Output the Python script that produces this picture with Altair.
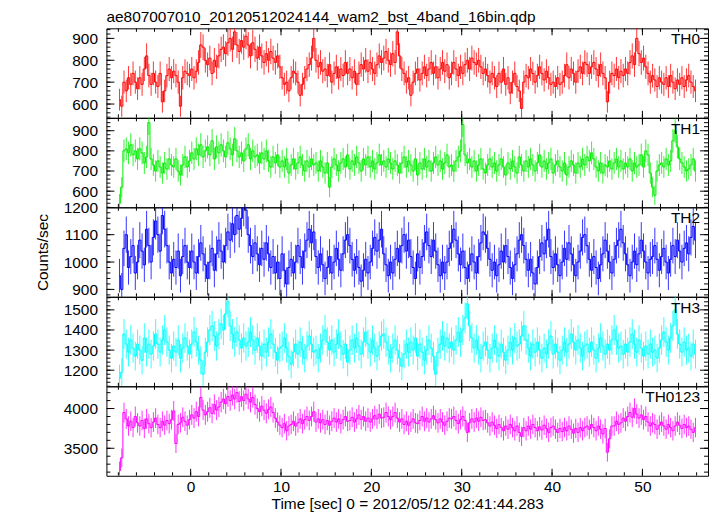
import altair as alt
import pandas as pd

FONT = "Liberation Sans"
TITLE = "ae807007010_20120512024144_wam2_bst_4band_16bin.qdp"
X_TITLE = "Time [sec] 0 = 2012/05/12 02:41:44.283"
Y_TITLE = "Counts/sec"
BAND_NAMES = ["TH0", "TH1", "TH2", "TH3", "TH0123"]
COLORS = ["#ff0000", "#00ee00", "#0000ff", "#00ffff", "#ff00ff"]

BIN_WIDTH = 0.25
FIRST_EDGE = -8.0

th0 = [620,
       590, 700, 660, 720, 690, 740, 700, 670,
       720, 690, 760, 820, 730, 690, 740,
       700, 680, 740, 610, 660, 730, 760, 720,
       750, 730, 700, 590, 720, 750, 740,
       730, 760, 720, 750, 790, 870, 860, 800,
       780, 810, 740, 800, 770, 820, 850,
       860, 830, 880, 900, 850, 930, 870, 840,
       890, 860, 910, 870, 820, 880, 850,
       810, 860, 820, 790, 830, 800, 840, 810,
       790, 820, 770, 720, 690, 700, 660,
       720, 750, 740, 700, 640, 690, 720, 760,
       780, 810, 900, 800, 770, 790, 750,
       760, 730, 780, 700, 740, 770, 720, 760,
       730, 790, 740, 760, 720, 750, 690,
       740, 780, 760, 800, 750, 790, 760, 740,
       780, 820, 790, 810, 840, 800, 780,
       830, 790, 930, 820, 760, 740, 700, 720,
       640, 700, 740, 760, 710, 740, 770,
       730, 760, 790, 740, 770, 720, 760, 790,
       750, 780, 720, 740, 790, 760, 730,
       770, 740, 780, 800, 760, 810, 790, 780,
       800, 770, 740, 760, 730, 700, 740,
       720, 680, 740, 700, 760, 690, 720, 650,
       700, 740, 680, 660, 580, 700, 730,
       720, 760, 740, 700, 730, 770, 740, 710,
       750, 720, 690, 700, 680, 720, 690,
       700, 730, 780, 720, 760, 740, 700, 750,
       770, 740, 790, 780, 740, 770, 790,
       760, 730, 780, 740, 720, 610, 700, 740,
       730, 760, 720, 750, 730, 760, 740,
       790, 820, 780, 900, 830, 790, 810, 770,
       740, 700, 730, 710, 680, 720, 700,
       690, 720, 680, 730, 700, 670, 710, 690,
       720, 680, 710, 730, 700, 680, 660]

th1 = [540,
       620, 800, 810, 790, 830, 780, 800, 760,
       810, 790, 740, 770, 940, 760, 730,
       700, 750, 720, 690, 740, 710, 760, 730,
       720, 760, 700, 680, 730, 770, 720,
       750, 790, 760, 810, 780, 830, 770, 800,
       820, 780, 850, 760, 820, 790, 830,
       800, 770, 840, 810, 780, 860, 800, 770,
       790, 750, 810, 830, 760, 800, 770,
       780, 740, 790, 760, 800, 750, 720, 770,
       740, 780, 720, 750, 720, 760, 690,
       730, 760, 710, 740, 770, 730, 700, 750,
       720, 760, 730, 740, 700, 750, 720,
       690, 740, 620, 720, 760, 730, 700, 740,
       760, 720, 780, 710, 750, 730, 770,
       740, 700, 760, 730, 770, 720, 750, 710,
       740, 780, 730, 750, 720, 760, 740,
       710, 750, 730, 690, 740, 770, 720, 750,
       730, 700, 760, 680, 740, 710, 760,
       720, 750, 700, 740, 770, 730, 750, 710,
       740, 780, 720, 730, 700, 750, 770,
       800, 930, 780, 740, 760, 720, 750, 700,
       730, 760, 710, 690, 730, 760, 720,
       740, 700, 730, 760, 720, 680, 740, 710,
       750, 720, 690, 770, 730, 700, 750,
       720, 760, 730, 700, 740, 780, 720, 750,
       710, 740, 760, 690, 730, 750, 720,
       700, 740, 680, 720, 750, 730, 690, 740,
       720, 760, 730, 770, 750, 790, 760,
       720, 700, 740, 690, 730, 720, 750, 710,
       740, 760, 720, 750, 710, 740, 720,
       760, 700, 740, 720, 730, 780, 720, 800,
       780, 690, 620, 580, 700, 730, 740,
       720, 760, 730, 750, 850, 900, 820, 760,
       740, 720, 700, 710, 730, 760, 700]

th2 = [950,
       900, 1050, 1100, 980, 1020, 1060, 960, 1000,
       1080, 1040, 990, 1120, 1060, 1000, 1090,
       1150, 1100, 1040, 1170, 1120, 1060, 1000, 960,
       1010, 980, 1040, 950, 1020, 1060, 1000,
       980, 1040, 1000, 960, 1020, 1070, 1030, 990,
       940, 1000, 1050, 970, 1030, 1080, 1040,
       1000, 1060, 1110, 1080, 1140, 1100, 1170, 1120,
       1160, 1200, 1190, 1100, 1060, 1020, 1070,
       1030, 990, 1050, 1010, 1070, 1030, 980, 1020,
       960, 1000, 940, 1030, 970, 920, 980,
       1010, 960, 1000, 1060, 1020, 980, 1040, 1080,
       1120, 1070, 1110, 1020, 980, 1030, 990,
       940, 980, 1020, 960, 1000, 1050, 1010, 970,
       1030, 1080, 1100, 1060, 1010, 970, 1020,
       980, 930, 970, 1010, 960, 1000, 1050, 1090,
       1040, 1080, 1120, 1030, 990, 950, 1000,
       960, 1010, 1050, 1000, 1060, 1100, 1040, 1080,
       1020, 980, 940, 1030, 980, 1020, 1070,
       1110, 1060, 1020, 1080, 1040, 990, 950, 1000,
       960, 1000, 1050, 1070, 1120, 1080, 1030,
       990, 1040, 980, 940, 990, 1030, 1000, 960,
       1020, 1070, 1110, 1100, 1050, 1010, 970,
       1000, 950, 990, 1040, 1000, 1060, 1020, 980,
       940, 990, 1030, 1080, 1100, 1060, 1010,
       970, 1010, 960, 920, 980, 1020, 1070, 1030,
       1080, 1120, 1020, 980, 1030, 990, 950,
       1000, 1050, 1010, 1070, 1030, 990, 950, 1000,
       1040, 1090, 1100, 1060, 1010, 970, 1020,
       980, 940, 990, 1030, 1080, 1040, 1000, 960,
       1010, 1060, 1080, 1120, 1070, 1030, 990,
       950, 1000, 1040, 990, 1030, 1080, 1040, 1000,
       960, 1010, 1020, 1060, 1010, 970, 1020,
       1050, 1000, 960, 1010, 1060, 1020, 1080, 1040,
       1000, 1050, 1070, 1030, 1090, 1130, 1080]

th3 = [1160,
       1190, 1380, 1330, 1290, 1350, 1310, 1270, 1330,
       1300, 1250, 1360, 1290, 1330, 1280, 1320,
       1380, 1330, 1290, 1350, 1400, 1340, 1300, 1260,
       1320, 1290, 1350, 1260, 1310, 1360, 1320,
       1280, 1330, 1390, 1340, 1300, 1250, 1180, 1290,
       1340, 1400, 1420, 1370, 1320, 1380, 1430,
       1400, 1480, 1540, 1420, 1380, 1340, 1390, 1350,
       1310, 1360, 1320, 1340, 1390, 1350, 1300,
       1360, 1320, 1270, 1330, 1290, 1340, 1380, 1330,
       1290, 1250, 1310, 1320, 1360, 1310, 1270,
       1230, 1290, 1330, 1280, 1340, 1300, 1260, 1320,
       1370, 1330, 1290, 1300, 1260, 1310, 1350,
       1400, 1340, 1300, 1350, 1290, 1330, 1380, 1320,
       1280, 1330, 1240, 1300, 1350, 1310, 1360,
       1320, 1280, 1340, 1390, 1330, 1290, 1350, 1310,
       1270, 1320, 1370, 1380, 1340, 1300, 1260,
       1310, 1350, 1300, 1260, 1220, 1280, 1330, 1290,
       1340, 1300, 1360, 1270, 1330, 1290, 1250,
       1300, 1350, 1310, 1270, 1180, 1290, 1330, 1370,
       1320, 1360, 1310, 1340, 1300, 1350, 1390,
       1340, 1400, 1460, 1530, 1420, 1360, 1310, 1350,
       1300, 1260, 1320, 1340, 1300, 1260, 1310,
       1350, 1310, 1270, 1330, 1290, 1250, 1300, 1340,
       1300, 1360, 1320, 1330, 1370, 1420, 1350,
       1310, 1270, 1330, 1290, 1340, 1300, 1260, 1310,
       1280, 1330, 1370, 1280, 1330, 1290, 1250,
       1300, 1340, 1290, 1330, 1380, 1340, 1300, 1350,
       1310, 1270, 1320, 1330, 1290, 1340, 1300,
       1260, 1310, 1360, 1320, 1280, 1330, 1300, 1350,
       1400, 1350, 1310, 1320, 1280, 1330, 1290,
       1340, 1380, 1330, 1290, 1350, 1310, 1270, 1320,
       1280, 1330, 1290, 1300, 1260, 1310, 1350,
       1390, 1340, 1300, 1360, 1420, 1500, 1380, 1330,
       1290, 1340, 1300, 1310, 1270, 1330, 1280]

th0123 = [3220,
          3380, 3950, 3870, 3780, 3840, 3760, 3900, 3820,
          3780, 3850, 3750, 3870, 3810, 3760, 3830,
          3880, 3800, 3760, 3840, 3790, 3850, 3810, 3860,
          3970, 3560, 3800, 3820, 3890, 3840, 3790,
          3860, 3920, 3880, 3960, 3900, 4140, 3980, 3920,
          3960, 4010, 3940, 4050, 3980, 4020, 4080,
          4120, 4060, 4150, 4100, 4170, 4120, 4200, 4090,
          4150, 4100, 4180, 4120, 4080, 4140, 4050,
          4000, 3960, 4030, 3980, 3940, 3990, 4020, 3950,
          3880, 3830, 3790, 3760, 3810, 3720, 3780,
          3800, 3840, 3780, 3820, 3870, 3810, 3860, 3900,
          3850, 3900, 3960, 3830, 3870, 3820, 3860,
          3800, 3850, 3790, 3840, 3880, 3830, 3870, 3810,
          3860, 3900, 3840, 3850, 3890, 3830, 3870,
          3920, 3860, 3900, 3840, 3880, 3830, 3870, 3910,
          3870, 3930, 3880, 3890, 3950, 3900, 3860,
          3900, 3950, 3880, 3830, 3870, 3800, 3840, 3790,
          3830, 3870, 3820, 3810, 3850, 3900, 3840,
          3880, 3830, 3870, 3910, 3860, 3820, 3870, 3830,
          3790, 3840, 3880, 3870, 3900, 3850, 3810,
          3860, 3900, 3850, 3700, 3820, 3870, 3830, 3880,
          3840, 3890, 3850, 3860, 3820, 3780, 3830,
          3790, 3750, 3800, 3760, 3720, 3780, 3740, 3800,
          3760, 3720, 3780, 3700, 3650, 3760, 3720,
          3780, 3740, 3800, 3760, 3720, 3770, 3730, 3790,
          3750, 3700, 3760, 3780, 3740, 3700, 3750,
          3710, 3760, 3720, 3780, 3740, 3690, 3750, 3700,
          3760, 3720, 3760, 3780, 3740, 3800, 3760,
          3720, 3780, 3740, 3680, 3750, 3450, 3620, 3780,
          3780, 3840, 3800, 3820, 3880, 3840, 3900,
          3950, 3890, 4000, 3930, 3880, 3920, 3860, 3900,
          3830, 3780, 3820, 3800, 3740, 3790, 3830,
          3780, 3740, 3800, 3760, 3720, 3780, 3830, 3790,
          3750, 3800, 3760, 3780, 3740, 3700, 3760]

SERIES = [th0, th1, th2, th3, th0123]

X_DOMAIN = [-9.32, 57.26]
X_MAJOR = [0, 10, 20, 30, 40, 50]
X_MINOR = list(range(-8, 57, 2))

Y_DOMAINS = [[537, 946], [520, 964], [873, 1200], [1120, 1565], [3154, 4280]]
Y_LABELS = [[600, 700, 800, 900], [600, 700, 800, 900], [900, 1000, 1100, 1200],
            [1200, 1300, 1400, 1500], [3500, 4000]]
Y_MINOR = [list(range(540, 946, 20)), list(range(520, 964, 20)), list(range(880, 1201, 20)),
           list(range(1120, 1565, 20)), list(range(3200, 4280, 100))]

W = 605
H = 90


def make_panel(i):
    vals = SERIES[i]
    times = [FIRST_EDGE + BIN_WIDTH * (k + 0.5) for k in range(len(vals))]
    # Poisson uncertainty of a rate measured in BIN_WIDTH-second bins
    errs = [(v * BIN_WIDTH) ** 0.5 / BIN_WIDTH for v in vals]
    df = pd.DataFrame({"t": times, "rate": vals,
                       "lo": [v - e for v, e in zip(vals, errs)],
                       "hi": [v + e for v, e in zip(vals, errs)]})
    color = COLORS[i]
    xs = alt.Scale(domain=X_DOMAIN, nice=False, zero=False)
    ys = alt.Scale(domain=Y_DOMAINS[i], nice=False, zero=False)

    last = i == len(SERIES) - 1
    if last:
        xaxis = alt.Axis(values=X_MAJOR, ticks=False, domain=False, grid=False,
                         labelPadding=4, title=X_TITLE, titlePadding=1,
                         labelFontSize=15.5, titleFontSize=15.5, format="d")
    ykw = dict(values=Y_LABELS[i], ticks=False, domain=False, grid=False,
               labelPadding=9, minExtent=46, maxExtent=46, labelFontSize=15.5,
               labelFlush=False, labelOverlap=False, format="d")
    if i == 2:
        ykw.update(title=Y_TITLE, titlePadding=10, titleFontSize=15.5)
    else:
        ykw.update(title=None)
    yaxis = alt.Axis(**ykw)

    def X(field="t"):
        if last:
            return alt.X(f"{field}:Q", scale=xs, axis=xaxis)
        return alt.X(f"{field}:Q", scale=xs, axis=None)

    def Y(field="rate"):
        return alt.Y(f"{field}:Q", scale=ys, axis=yaxis)

    bars = alt.Chart(df).mark_rule(color=color, strokeWidth=1, opacity=0.8, clip=True).encode(
        x=X(), y=Y("lo"), y2="hi")
    steps = alt.Chart(df).mark_line(color=color, strokeWidth=1, interpolate="step",
                                    clip=True).encode(x=X(), y=Y())

    xmin_df = pd.DataFrame({"t": X_MINOR})
    xmaj_df = pd.DataFrame({"t": X_MAJOR})
    ymin_df = pd.DataFrame({"rate": Y_MINOR[i]})
    ymaj_df = pd.DataFrame({"rate": Y_LABELS[i]})

    def xt(d, y0, y1):
        return alt.Chart(d).mark_rule(color="black", strokeWidth=1, clip=True).encode(
            x=X(), y=alt.value(y0), y2=alt.value(y1))

    def yt(d, x0, x1):
        return alt.Chart(d).mark_rule(color="black", strokeWidth=1, clip=True).encode(
            y=Y(), x=alt.value(x0), x2=alt.value(x1))

    ticks = [
        xt(xmin_df, H, H - 3.5), xt(xmaj_df, H, H - 7),
        xt(xmin_df, 0, 3.5), xt(xmaj_df, 0, 7),
        yt(ymin_df, 0, 4), yt(ymaj_df, 0, 8),
        yt(ymin_df, W, W - 4), yt(ymaj_df, W, W - 8),
    ]

    label = alt.Chart(pd.DataFrame({"name": [BAND_NAMES[i]]})).mark_text(
        align="right", baseline="alphabetic", fontSize=15.5, font=FONT, color="black").encode(
        text="name:N", x=alt.value(W - 8), y=alt.value(16))

    layer = alt.layer(bars, steps, *ticks, label).properties(width=W, height=H)
    if i == 0:
        layer = layer.properties(title=alt.TitleParams(
            TITLE, anchor="start", frame="group", fontSize=15.5, font=FONT,
            fontWeight="normal", offset=3, color="black"))
    return layer


chart = alt.vconcat(*[make_panel(i) for i in range(len(SERIES))], spacing=0,
                    bounds="flush").properties(
    padding={"left": 27, "top": 0, "right": 0, "bottom": 0}
).configure_view(stroke="black", strokeWidth=1).configure_axis(
    labelFont=FONT, titleFont=FONT, labelColor="black", titleColor="black",
    titleFontWeight="normal"
)

chart.save("out.html", embed_options={"renderer": "svg", "actions": False})
